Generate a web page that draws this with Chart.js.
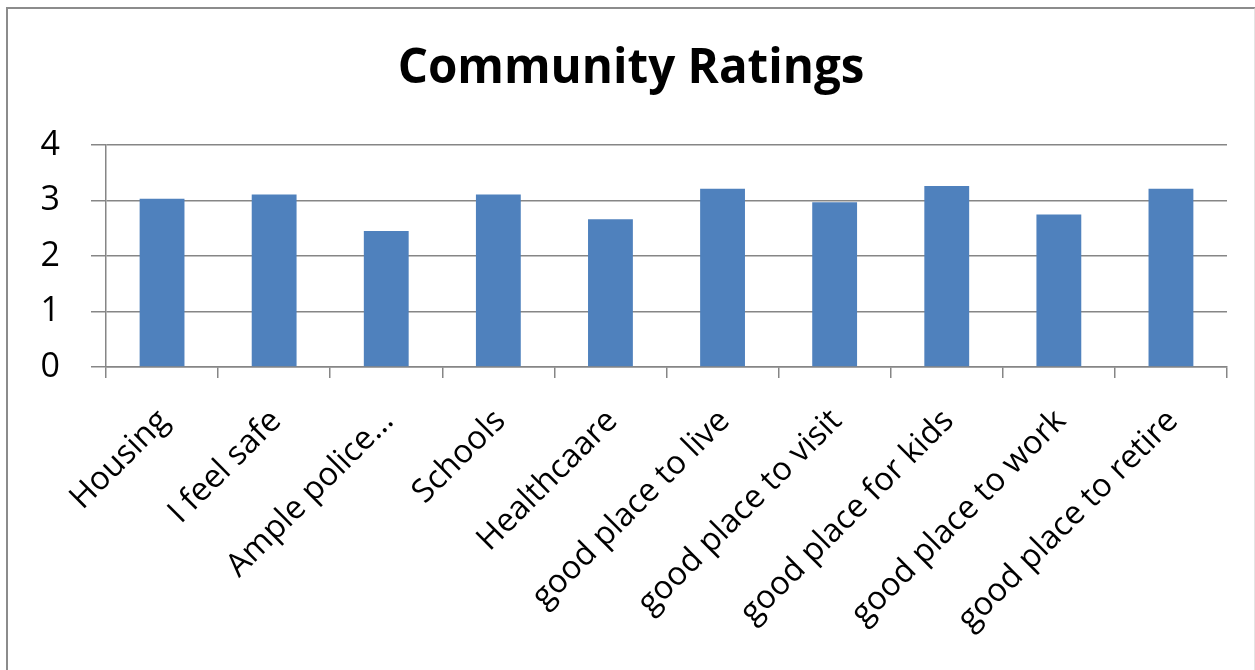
<!DOCTYPE html>
<html>
<head>
<meta charset="utf-8">
<title>Community Ratings</title>
<script src="https://cdn.jsdelivr.net/npm/chart.js@4.4.1/dist/chart.umd.min.js"></script>
<style>
  html, body { margin: 0; padding: 0; background: #fff; overflow: hidden; }
  #wrap { position: relative; width: 1255px; height: 670px; }
  #frame {
    position: absolute; left: 6px; top: 7px; width: 1246px; height: 700px;
    border-left: 2px solid #8c8c8c; border-top: 2px solid #8c8c8c;
    border-right: 2px solid #e4e4e4; pointer-events: none;
  }
  canvas { position: absolute; left: 0; top: 0; }
</style>
</head>
<body>
<div id="wrap">
  <canvas id="myChart" width="1255" height="670"></canvas>
  <div id="frame"></div>
</div>
<script>
'use strict';
let categories = ['Housing', 'I feel safe', 'Ample police…', 'Schools', 'Healthcaare',
  'good place to live', 'good place to visit', 'good place for kids', 'good place to work', 'good place to retire'];
let ratings = [3.03, 3.11, 2.45, 3.11, 2.66, 3.21, 2.97, 3.26, 2.75, 3.21];
let yTicks = [0, 1, 2, 3, 4];

let gridColor = '#868686';
let fontName = '"Open Sans", "DejaVu Sans", sans-serif';

const data = {
  labels: categories,
  datasets: [{
    label: 'Rating',
    data: ratings,
    backgroundColor: '#4f81bd',
    borderWidth: 0,
    categoryPercentage: 1,
    barPercentage: 0.4
  }]
};

const config = {
  type: 'bar',
  data: data,
  options: {
    responsive: false,
    animation: false,
    // left/right padding keep the title centred on the frame
    layout: { padding: { left: 35, right: 28, top: 0, bottom: 0 } },
    plugins: {
      legend: { display: false },
      tooltip: { enabled: false },
      title: {
        display: true,
        text: 'Community Ratings',
        color: '#000',
        font: { family: fontName, size: 47.5, weight: 'bold', lineHeight: 1.2 },
        padding: { top: 41, bottom: 47 }
      }
    },
    scales: {
      x: {
        grid: {
          display: true,
          offset: true,
          drawOnChartArea: false,
          drawTicks: true,
          tickLength: 11,
          color: gridColor,
          lineWidth: 1.5
        },
        border: { display: true, color: gridColor, width: 1.5 },
        ticks: {
          color: '#000',
          font: { family: fontName, size: 32.5 },
          minRotation: 45,
          maxRotation: 45,
          autoSkip: false,
          padding: 24,
          labelOffset: 2
        },
        afterFit: function(scale) { scale.height = 303; }
      },
      y: {
        min: 0,
        max: 4,
        afterBuildTicks: function(scale) {
          scale.ticks = yTicks.map(function(v) { return { value: v }; });
        },
        grid: {
          color: gridColor,
          lineWidth: 1.5,
          drawTicks: true,
          tickLength: 15
        },
        border: { display: true, color: gridColor, width: 1.5 },
        ticks: {
          color: '#000',
          font: { family: fontName, size: 34 },
          padding: 31
        },
        afterFit: function(scale) { scale.width = 71; }
      }
    }
  }
};

let myChart = new Chart(document.getElementById('myChart'), config);
</script>
</body>
</html>
